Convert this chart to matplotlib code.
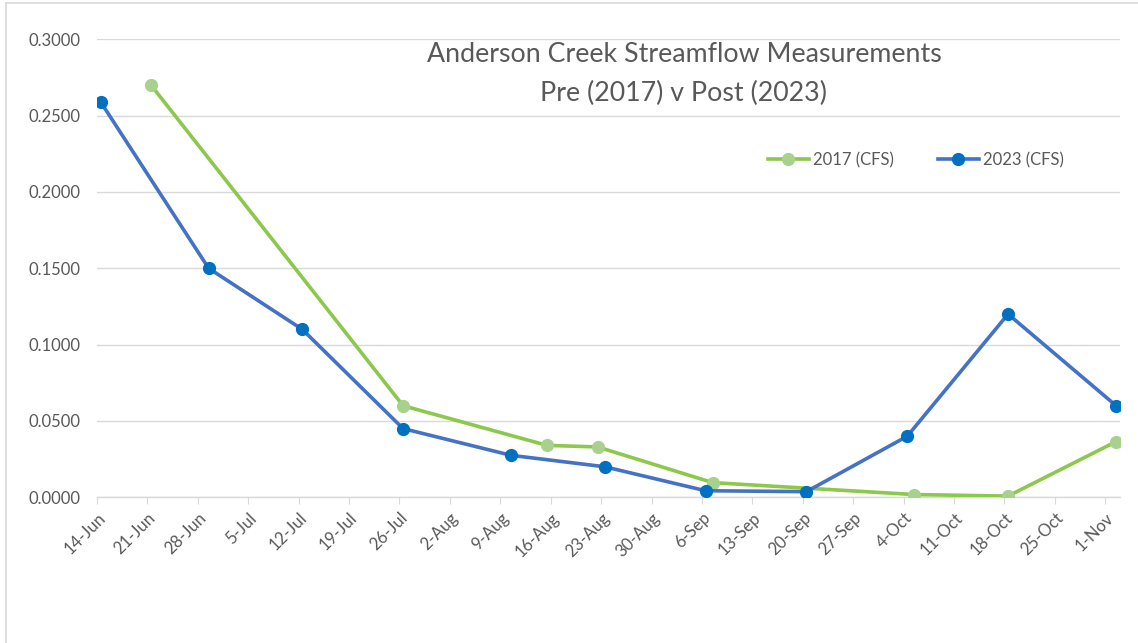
import matplotlib
matplotlib.use("Agg")
import matplotlib.pyplot as plt
from matplotlib.lines import Line2D
import pandas as pd

plt.rcParams['font.family'] = ['Lato', 'DejaVu Sans']

# Data (dates shown on a common calendar year)
dates_2017 = ["2023-06-21", "2023-07-26", "2023-08-15", "2023-08-22", "2023-09-07",
              "2023-10-05", "2023-10-18", "2023-11-02"]
flow_2017 = [0.270, 0.060, 0.034, 0.033, 0.0096, 0.0018, 0.0008, 0.0365]

dates_2023 = ["2023-06-14", "2023-06-29", "2023-07-12", "2023-07-26", "2023-08-10",
              "2023-08-23", "2023-09-06", "2023-09-20", "2023-10-04", "2023-10-18",
              "2023-11-02"]
flow_2023 = [0.259, 0.150, 0.110, 0.045, 0.0275, 0.020, 0.0043, 0.0037, 0.040, 0.120, 0.060]

tick_dates = pd.date_range("2023-06-14", "2023-11-01", freq="7D")
y_ticks = [0.0, 0.05, 0.10, 0.15, 0.20, 0.25, 0.30]

title_lines = ["Anderson Creek Streamflow Measurements", "Pre (2017) v Post (2023)"]

grey_txt = "#595959"
grid_c = "#d9d9d9"

fig = plt.figure(figsize=(11.38, 6.43), dpi=100)
ax = fig.add_axes([97/1138, 1-497.3/643, (1119.7-97)/1138, (497.3-39.3)/643])

half = pd.Timedelta(hours=12)
x17 = pd.to_datetime(dates_2017) + half
x23 = pd.to_datetime(dates_2023) + half

ax.plot(x17, flow_2017, color="#8cc84b", lw=2.6, marker="o", ms=8.5,
        mfc="#a9d18e", mec="#a9d18e", zorder=3, label="2017 (CFS)")
ax.plot(x23, flow_2023, color="#4472c4", lw=2.6, marker="o", ms=8.5,
        mfc="#0070c0", mec="#0070c0", zorder=4, label="2023 (CFS)")

ax.set_xlim(pd.Timestamp("2023-06-14"), pd.Timestamp("2023-11-03"))
ax.set_ylim(0, 0.30)
ax.set_yticks(y_ticks)
ax.set_yticklabels([f"{v:.4f}" for v in y_ticks])
ax.set_xticks(tick_dates)
ax.set_xticklabels([f"{d.day}-{d.strftime('%b')}" for d in tick_dates],
                   rotation=45, ha="right", rotation_mode="anchor")

ax.grid(axis="y", color=grid_c, lw=1)
ax.set_axisbelow(True)
for s in ["top", "right", "left"]:
    ax.spines[s].set_visible(False)
ax.spines["bottom"].set_color(grid_c)
ax.spines["bottom"].set_linewidth(1)
ax.tick_params(axis="y", length=0, pad=12, labelsize=12, labelcolor=grey_txt)
ax.tick_params(axis="x", length=5, color=grid_c, pad=4, labelsize=12, labelcolor=grey_txt)

fig.text(684/1138, 1-55/643, title_lines[0], ha="center", va="center",
         fontsize=19.3, color=grey_txt)
fig.text(684/1138, 1-93/643, title_lines[1], ha="center", va="center",
         fontsize=19.3, color=grey_txt)

leg = ax.legend(loc="center", bbox_to_anchor=(916/1138, 1-160/643), bbox_transform=fig.transFigure,
                ncol=2, frameon=False, fontsize=12, labelcolor=grey_txt,
                handlelength=2.5, columnspacing=2.6, handletextpad=0.25)

# chart border (left & top visible)
fig.add_artist(Line2D([6/1138, 6/1138], [0, 1-3/643], color=grid_c, lw=1.2))
fig.add_artist(Line2D([6/1138, 1], [1-3/643, 1-3/643], color=grid_c, lw=1.2))

fig.savefig("out.png", dpi=100, facecolor="white")
